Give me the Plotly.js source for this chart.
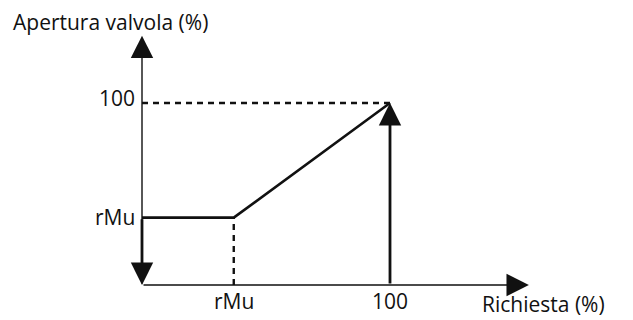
<!DOCTYPE html>
<html>
<head>
<meta charset="utf-8">
<script src="https://cdn.plot.ly/plotly-3.0.1.min.js"></script>
<style>html,body{margin:0;padding:0;background:#fff;}#chart{width:633px;height:320px;}</style>
</head>
<body>
<div id="chart"></div>
<script>
// ---- data ----
const rMu = 37;
const fullScale = 100;
const curveX = [0, rMu, fullScale];
const curveY = [rMu, rMu, fullScale];
const xTickVals = [rMu, fullScale];
const xTickText = ['rMu', '100'];
const yTickVals = [rMu, fullScale];
const yTickText = ['rMu', '100'];
const xAxisTitle = 'Richiesta (%)';
const yAxisTitle = 'Apertura valvola (%)';
const xAxisEnd = 156;
const yAxisEnd = 137;

const FONT = 'Open Sans, sans-serif';
const FS = 21;

const traces = [
  {x: curveX, y: curveY, mode: 'lines', line: {color: '#111', width: 2.6}, hoverinfo: 'skip'},
  {x: [0, fullScale], y: [fullScale, fullScale], mode: 'lines', line: {color: '#111', width: 2.4, dash: '6px,5px'}, hoverinfo: 'skip'},
  {x: [rMu, rMu], y: [0, rMu], mode: 'lines', line: {color: '#111', width: 2.4, dash: '6px,5px'}, hoverinfo: 'skip'}
];

function arrow(x0, y0, x1, y1, w, size) {
  return {x: x1, y: y1, ax: x0, ay: y0, xref: 'x', yref: 'y', axref: 'x', ayref: 'y',
    text: '', showarrow: true, arrowhead: 2, arrowsize: size, arrowwidth: w, arrowcolor: '#111', standoff: 0};
}

const annotations = [
  arrow(0, 0, 0, yAxisEnd, 1.4, 3.2),
  arrow(0, 0, xAxisEnd, 0, 1.4, 3.2),
  arrow(0, rMu, 0, 0, 2.8, 1.6),
  arrow(fullScale, 0, fullScale, fullScale, 2.8, 1.6)
];
yTickVals.forEach((v, i) => annotations.push({x: 0, y: v, xref: 'x', yref: 'y', text: yTickText[i], showarrow: false,
  xanchor: 'right', yanchor: 'middle', xshift: -5, yshift: i === 1 ? 5 : 1, font: {family: FONT, size: FS, color: '#111'}}));
xTickVals.forEach((v, i) => annotations.push({x: v, y: 0, xref: 'x', yref: 'y', text: xTickText[i], showarrow: false,
  xanchor: 'center', yanchor: 'middle', yshift: -16, font: {family: FONT, size: FS, color: '#111'}}));
annotations.push({x: 11/633, y: 1 - 22/320, xref: 'paper', yref: 'paper', text: yAxisTitle, showarrow: false,
  xanchor: 'left', yanchor: 'middle', font: {family: FONT, size: FS, color: '#111'}});
annotations.push({x: 480/633, y: 0, xref: 'paper', yref: 'paper', text: xAxisTitle, showarrow: false,
  xanchor: 'left', yanchor: 'bottom', font: {family: FONT, size: FS, color: '#111'}});

const layout = {
  width: 633, height: 320,
  margin: {l: 0, r: 0, t: 0, b: 0},
  paper_bgcolor: '#fff', plot_bgcolor: '#fff',
  showlegend: false,
  xaxis: {range: [-142/2.48, (633-142)/2.48], visible: false, fixedrange: true},
  yaxis: {range: [-(320-285)/1.82, 285/1.82], visible: false, fixedrange: true},
  annotations: annotations
};

Plotly.newPlot('chart', traces, layout, {staticPlot: true, displayModeBar: false});
</script>
</body>
</html>
